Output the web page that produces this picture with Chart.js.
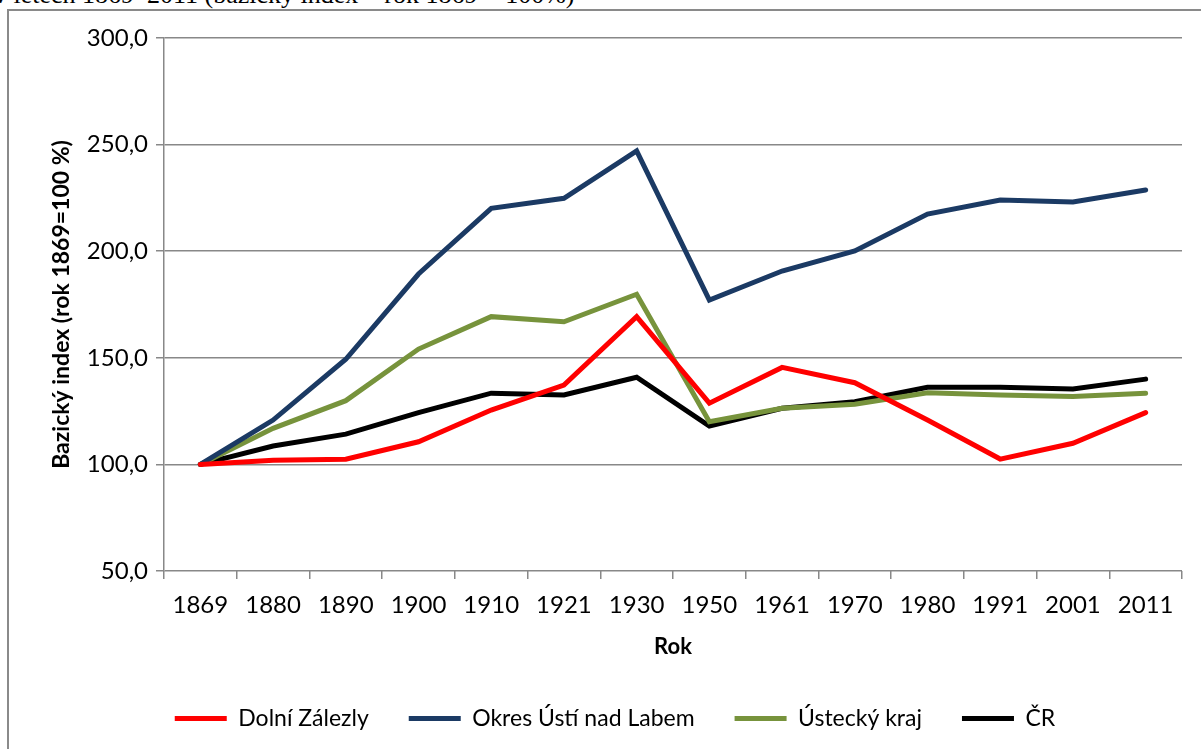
<!DOCTYPE html>
<html>
<head>
<meta charset="utf-8">
<script src="https://cdn.jsdelivr.net/npm/chart.js@4"></script>
<style>
  body { margin: 0; background: #fff; overflow: hidden; }
  #frame { position: absolute; left: 7px; top: 9px; width: 1300px; height: 900px;
           border-left: 2px solid #8a8a8a; border-top: 2px solid #8a8a8a; }
  #cut { position: absolute; left: -6px; top: -20px; font: 26px "Liberation Serif", serif; color: #000; white-space: nowrap; }
  canvas { position: absolute; left: 0; top: 0; }
</style>
</head>
<body>
<div id="cut">v letech 1869–2011 (bazický index – rok 1869 = 100%)</div>
<div id="frame"></div>
<canvas id="indexChart" width="1201" height="749"></canvas>
<script>
// years of the census
const years = ['1869', '1880', '1890', '1900', '1910', '1921', '1930', '1950', '1961', '1970', '1980', '1991', '2001', '2011'];

// base index, 1869 = 100
const dolniZalezly = [100, 102.0, 102.4, 110.6, 125.5, 137.2, 169.3, 128.7, 145.5, 138.3, 120.8, 102.5, 109.9, 124.3];
const okresUsti = [100, 120.8, 149.3, 189.3, 220.1, 224.8, 247.0, 177.1, 190.7, 200.1, 217.4, 224.0, 223.1, 228.7];
const usteckyKraj = [100, 116.9, 129.9, 154.1, 169.3, 166.9, 179.8, 120.0, 126.3, 128.2, 133.6, 132.6, 131.8, 133.4];
const cr = [100, 108.6, 114.2, 124.3, 133.4, 132.6, 140.9, 118.0, 126.3, 129.4, 136.2, 136.2, 135.4, 140.0];

const gridColor = '#888888';
const font = 'Lato';

function line(label, data, color) {
    return {
        label: label,
        data: data,
        borderColor: color,
        backgroundColor: color,
        borderWidth: 5,
        pointRadius: 0,
        tension: 0,
        borderCapStyle: 'round',
        pointStyle: 'line'
    };
}

const ctx = document.getElementById('indexChart').getContext('2d');
new Chart(ctx, {
    type: 'line',
    data: {
        labels: years,
        datasets: [
            line('Dolní Zálezly', dolniZalezly, '#ff0000'),
            line('Okres Ústí nad Labem', okresUsti, '#1b3a64'),
            line('Ústecký kraj', usteckyKraj, '#77933c'),
            line('ČR', cr, '#000000')
        ]
    },
    options: {
        responsive: false,
        animation: false,
        layout: { padding: { left: 48, right: 19, top: 38, bottom: 9 } },
        scales: {
            x: {
                offset: true,
                grid: { offset: true, drawOnChartArea: false, drawTicks: true, tickLength: 8, color: gridColor, lineWidth: 1.5 },
                border: { display: false },
                ticks: { color: '#000', font: { family: font, size: 24 }, padding: 12, maxRotation: 0, autoSkip: false },
                title: { display: true, text: 'Rok', color: '#000', font: { family: font, size: 22, weight: 'bold' }, padding: { top: 0, bottom: 7 } },
                afterFit: scale => { scale.height = 96; }
            },
            y: {
                min: 50,
                max: 300,
                ticks: {
                    stepSize: 50,
                    color: '#000',
                    font: { family: font, size: 24 },
                    padding: 8,
                    callback: v => v.toFixed(1).replace('.', ',')
                },
                grid: { color: gridColor, lineWidth: 1.5, tickLength: 8 },
                border: { color: gridColor, width: 1.5 },
                title: { display: true, text: 'Bazický index (rok 1869=100 %)', color: '#000', font: { family: font, size: 23, weight: 'bold' }, padding: 0 },
                afterFit: scale => { scale.width = 116; }
            }
        },
        plugins: {
            legend: {
                position: 'bottom',
                labels: {
                    usePointStyle: true,
                    pointStyleWidth: 52,
                    color: '#000',
                    font: { family: font, size: 23 },
                    padding: 40
                }
            },
            tooltip: { enabled: false }
        }
    }
});
</script>
</body>
</html>
